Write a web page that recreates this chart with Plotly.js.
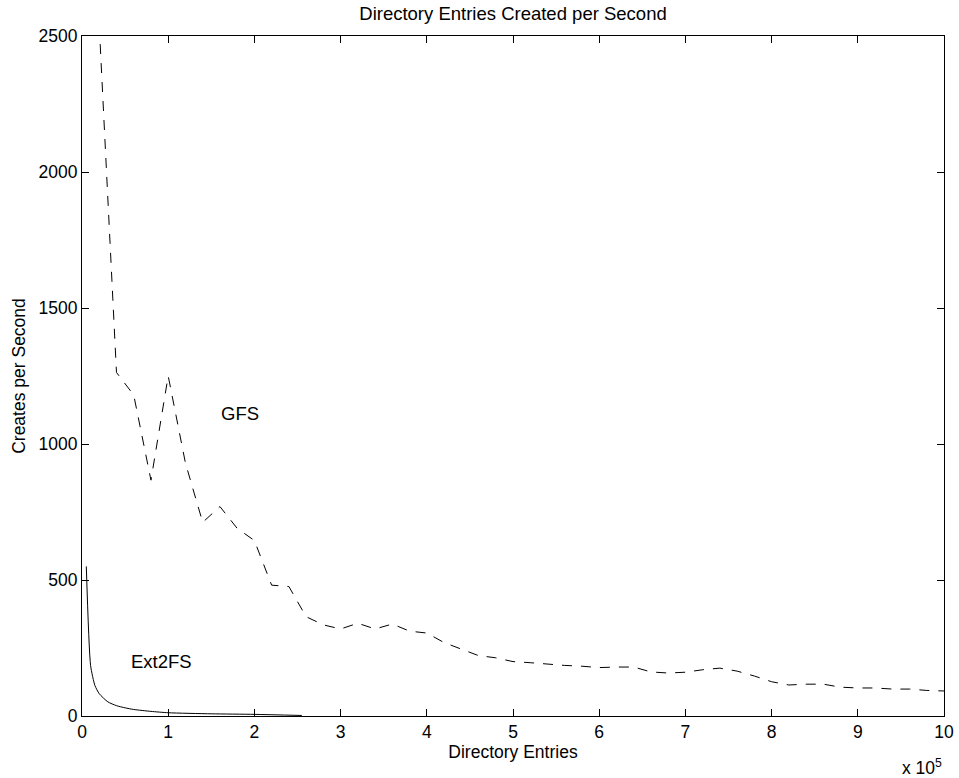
<!DOCTYPE html>
<html>
<head>
<meta charset="utf-8">
<script src="https://cdn.plot.ly/plotly-3.0.1.min.js"></script>
<style>html,body{margin:0;padding:0;background:#fff;}#chart{width:959px;height:778px;}</style>
</head>
<body>
<div id="chart"></div>
<script>
// x in units of 10^5 directory entries
const gfsX = [0.2,0.4,0.6,0.8,1.0,1.2,1.4,1.6,1.8,2.0,2.2,2.4,2.6,2.8,3.0,3.2,3.4,3.6,3.8,4.0,4.2,4.4,4.6,4.8,5.0,5.2,5.4,5.6,5.8,6.0,6.2,6.4,6.6,6.8,7.0,7.2,7.4,7.6,7.8,8.0,8.2,8.4,8.6,8.8,9.0,9.2,9.4,9.6,9.8,10.0];
const gfsY = [2540,1263,1180,867,1250,930,712,770,690,645,481,476,365,335,320,341,320,338,312,305,270,245,222,214,200,196,190,186,183,178,180,180,162,158,161,170,176,165,147,126,114,117,117,106,103,103,99,99,94,92];
const extX = [0.05,0.1,0.15,0.2,0.3,0.4,0.5,0.6,0.8,1.0,1.5,2.0,2.55];
const extY = [550,185,112,82,52,38,30,24,17,12,8,6,2];
const xTicks = [0,1,2,3,4,5,6,7,8,9,10];
const yTicks = [0,500,1000,1500,2000,2500];

const FONT = 'Liberation Sans, Arial, Helvetica, sans-serif';
const FS = 17.5;

const traces = [
  {x: gfsX, y: gfsY, type: 'scatter', mode: 'lines', name: 'GFS',
   line: {color: '#000', width: 1, dash: '10px,9px'}, cliponaxis: true},
  {x: extX, y: extY, type: 'scatter', mode: 'lines', name: 'Ext2FS',
   line: {color: '#000', width: 1, shape: 'spline', smoothing: 0.6}, cliponaxis: true}
];

const axisCommon = {
  showgrid: false, zeroline: false, showline: true, linecolor: '#000', linewidth: 1,
  mirror: 'ticks', ticks: 'inside', ticklen: 7, tickcolor: '#000', tickwidth: 1,
  tickfont: {family: FONT, size: FS, color: '#000'}
};

const layout = {
  width: 959, height: 778,
  margin: {l: 82, r: 15, t: 36, b: 62},
  paper_bgcolor: '#fff', plot_bgcolor: '#fff',
  showlegend: false,
  title: {text: 'Directory Entries Created per Second', font: {family: FONT, size: 18.5, color: '#000'},
          x: 0.5, xref: 'paper', y: 0.982, yref: 'container', yanchor: 'middle'},
  xaxis: Object.assign({}, axisCommon, {
    range: [0, 10], tickvals: xTicks, ticktext: xTicks.map(String),
    title: {text: 'Directory Entries', font: {family: FONT, size: FS, color: '#000'}, standoff: 2}
  }),
  yaxis: Object.assign({}, axisCommon, {
    range: [0, 2500], tickvals: yTicks, ticktext: yTicks.map(String),
    title: {text: 'Creates per Second', font: {family: FONT, size: FS, color: '#000'}, standoff: 8}
  }),
  annotations: [
    {x: 1.83, y: 1112, xref: 'x', yref: 'y', text: 'GFS', showarrow: false,
     font: {family: FONT, size: 18.5, color: '#000'}},
    {x: 0.92, y: 202, xref: 'x', yref: 'y', text: 'Ext2FS', showarrow: false,
     font: {family: FONT, size: 18.5, color: '#000'}},
    {x: 1.0, y: 0, xref: 'paper', yref: 'paper', xanchor: 'right', yanchor: 'top', yshift: -38,
     text: 'x 10<sup>5</sup>', showarrow: false, font: {family: FONT, size: FS, color: '#000'}}
  ]
};

Plotly.newPlot('chart', traces, layout, {displayModeBar: false, staticPlot: true});
</script>
</body>
</html>
